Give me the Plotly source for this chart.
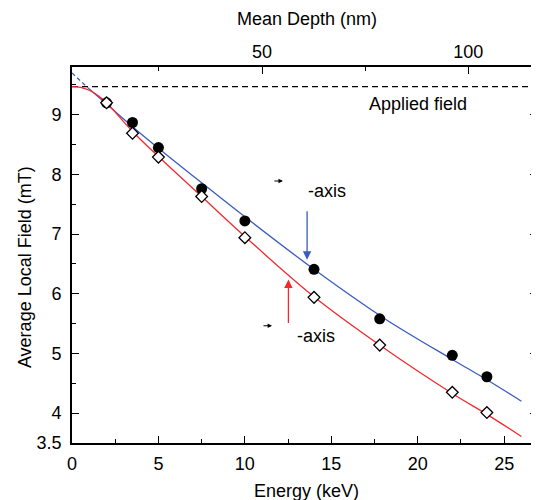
import plotly.graph_objects as go

# ---- data ----
energy = [2.0, 3.5, 5.0, 7.5, 10.0, 14.0, 17.8, 22.0, 24.0]
field_parallel = [9.20, 8.87, 8.45, 7.76, 7.22, 6.41, 5.58, 4.97, 4.61]   # filled circles
field_perp = [9.20, 8.69, 8.29, 7.63, 6.94, 5.94, 5.14, 4.35, 4.01]       # open diamonds

blue_fit_x = [1.0, 2.0, 3.5, 5.0, 7.5, 10.0, 14.0, 18.0, 22.0, 24.0, 26.0]
blue_fit_y = [9.43, 9.18, 8.80, 8.44, 7.86, 7.29, 6.41, 5.60, 4.90, 4.56, 4.20]
blue_ext_x = [0.0, 1.0]
blue_ext_y = [9.70, 9.43]

red_fit_x = [0.0, 0.5, 1.0, 1.5, 2.0, 3.5, 5.0, 7.5, 10.0, 14.0, 18.0, 22.0, 24.0, 26.0]
red_fit_y = [9.47, 9.46, 9.41, 9.32, 9.20, 8.72, 8.30, 7.63, 6.96, 5.95, 5.10, 4.33, 3.98, 3.61]

applied_field = 9.47

x_ticks = [0, 5, 10, 15, 20, 25]
y_ticks = [3.5, 4, 5, 6, 7, 8, 9]
depth_ticks = [50, 100]

BLUE = "#3a5cbf"
RED = "#f22a2e"
FONT = "Liberation Sans, Arial, sans-serif"
FS = 18

fig = go.Figure()

fig.add_trace(go.Scatter(x=[0, 26.9], y=[applied_field, applied_field], mode="lines",
                         line=dict(color="black", width=1.2, dash="6px,4px"), showlegend=False))
fig.add_trace(go.Scatter(x=blue_ext_x, y=blue_ext_y, mode="lines",
                         line=dict(color=BLUE, width=1.2, dash="4px,3px"), showlegend=False))
fig.add_trace(go.Scatter(x=blue_fit_x, y=blue_fit_y, mode="lines", line_shape="spline",
                         line=dict(color=BLUE, width=1.3), showlegend=False))
fig.add_trace(go.Scatter(x=red_fit_x, y=red_fit_y, mode="lines", line_shape="spline",
                         line=dict(color=RED, width=1.3), showlegend=False))
fig.add_trace(go.Scatter(x=energy, y=field_parallel, mode="markers",
                         marker=dict(symbol="circle", size=11, color="black"), showlegend=False))
fig.add_trace(go.Scatter(x=energy, y=field_perp, mode="markers",
                         marker=dict(symbol="diamond", size=9, color="white",
                                     line=dict(color="black", width=1.3)), showlegend=False))
# invisible trace to anchor top (depth) axis
fig.add_trace(go.Scatter(x=[50], y=[5], xaxis="x2", yaxis="y", mode="markers",
                         marker=dict(opacity=0), showlegend=False, hoverinfo="skip"))

tfont = dict(size=FS, family=FONT, color="black")
annotations = [
    dict(x=17.06, y=applied_field, xref="x", yref="y", text="Applied field", showarrow=False,
         font=tfont, xanchor="left", yanchor="middle", yshift=-17),
    # blue arrow
    dict(x=13.6, y=6.57, xref="x", yref="y", ax=0, ay=-50, axref="pixel", ayref="pixel",
         text="", showarrow=True, arrowhead=2, arrowsize=1.3, arrowwidth=1.3, arrowcolor=BLUE),
    # red arrow
    dict(x=12.52, y=6.24, xref="x", yref="y", ax=0, ay=45, axref="pixel", ayref="pixel",
         text="", showarrow=True, arrowhead=2, arrowsize=1.3, arrowwidth=1.3, arrowcolor=RED),
    # small arrows
    dict(x=12.2, y=7.89, xref="x", yref="y", ax=-10, ay=0, text="", showarrow=True,
         arrowhead=2, arrowsize=0.8, arrowwidth=1.1, arrowcolor="black"),
    dict(x=11.57, y=5.465, xref="x", yref="y", ax=-10, ay=0, text="", showarrow=True,
         arrowhead=2, arrowsize=0.8, arrowwidth=1.1, arrowcolor="black"),
    dict(x=14.75, y=7.73, xref="x", yref="y", text="-axis", showarrow=False, font=tfont),
    dict(x=14.09, y=5.30, xref="x", yref="y", text="-axis", showarrow=False, font=tfont),
    # axis titles
    dict(x=0.505, y=-0.128, xref="paper", yref="paper", text="Energy (keV)", showarrow=False,
         font=tfont, xanchor="center", yanchor="middle"),
    dict(x=0.505, y=1.128, xref="paper", yref="paper", text="Mean Depth (nm)", showarrow=False,
         font=tfont, xanchor="center", yanchor="middle"),
    dict(x=-0.101, y=0.468, xref="paper", yref="paper", text="Average Local Field (mT)",
         showarrow=False, font=tfont, textangle=-90, xanchor="center", yanchor="middle"),
]

common = dict(ticks="inside", ticklen=7, tickwidth=1.2, tickcolor="black", showline=True,
              linecolor="black", linewidth=1.6, showgrid=False, zeroline=False,
              tickfont=dict(size=FS, family=FONT, color="black"))

fig.update_layout(
    width=531, height=492,
    margin=dict(l=64, r=2, t=59, b=57, autoexpand=False),
    plot_bgcolor="white", paper_bgcolor="white",
    font=dict(family=FONT, size=FS, color="black"),
    annotations=annotations,
    xaxis=dict(range=[0, 26.9], tickvals=x_ticks, mirror=False, ticklabelstandoff=4,
               minor=dict(tickvals=[2.5, 7.5, 12.5, 17.5, 22.5], ticks="inside", ticklen=4,
                          tickwidth=1.2, tickcolor="black"), **common),
    xaxis2=dict(overlaying="x", side="top", anchor="y", range=[3.9, 116.7],
                tickvals=depth_ticks, ticklabelstandoff=0,
                minor=dict(tickvals=[25, 75], ticks="inside", ticklen=4, tickwidth=1.2,
                           tickcolor="black"), **common),
    yaxis=dict(range=[3.5, 9.8], tickvals=y_ticks, mirror="ticks", ticklabelstandoff=5,
               minor=dict(tickvals=[4.5, 5.5, 6.5, 7.5, 8.5, 9.5], ticks="inside", ticklen=4,
                          tickwidth=1.2, tickcolor="black"), **common),
)

fig.write_html("out.html")
